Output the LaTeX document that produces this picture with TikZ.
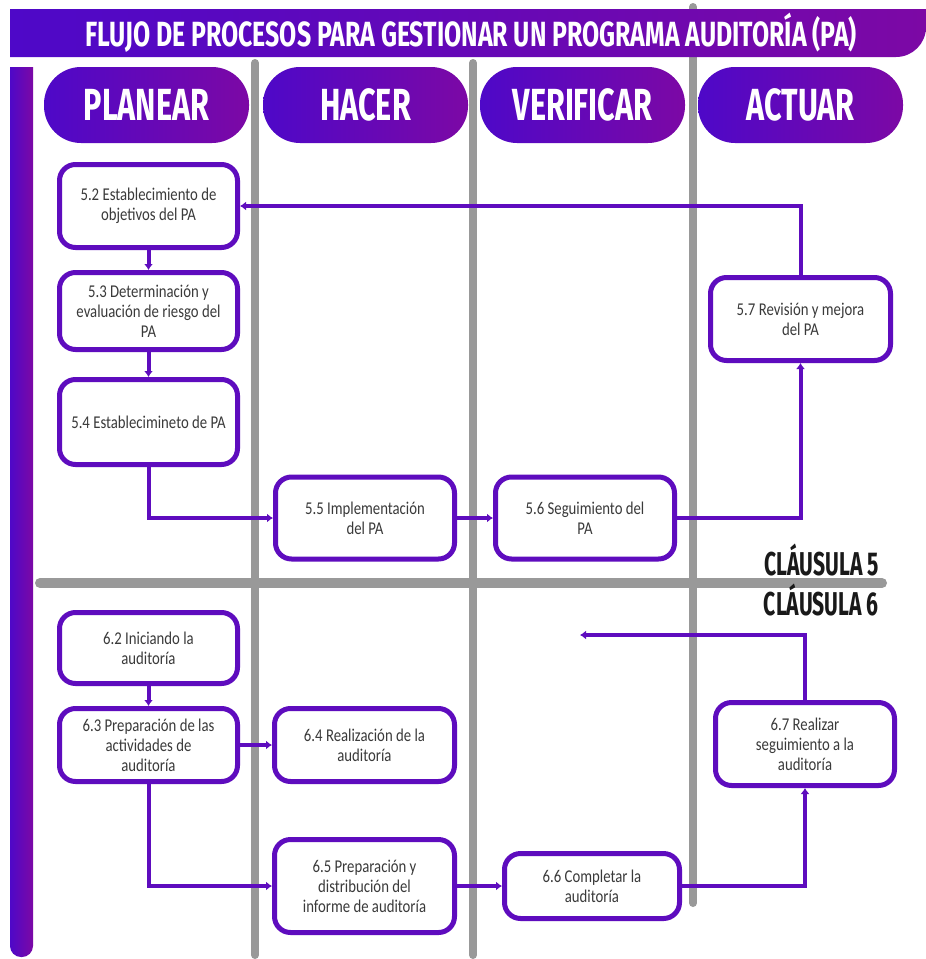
\documentclass[tikz,border=0pt]{standalone}
\usepackage{fontspec}
\setmainfont[FakeStretch=0.82]{Carlito}
\newfontfamily\titfont[FakeStretch=0.71]{Fira Sans}
\newfontfamily\fasefont[FakeStretch=0.68]{Fira Sans}
\newfontfamily\clfont[FakeStretch=0.64]{Fira Sans}
\usetikzlibrary{arrows.meta}
\definecolor{azulv}{RGB}{78,8,200}
\definecolor{morado}{RGB}{124,8,165}
\definecolor{borde}{RGB}{94,12,190}
\definecolor{carril}{RGB}{153,153,153}
\definecolor{letra}{RGB}{58,58,58}
\tikzset{
	paso/.style={draw=borde, line width=5pt, rounded corners=16pt, fill=white, align=center, text=letra, font=\fontsize{18}{20}\selectfont, inner sep=2pt},
	flecha/.style={draw=borde, line width=4pt, -{Latex[length=6pt,width=9pt]}},
	linea/.style={draw=carril, line width=8pt, line cap=round},
	fase/.style={left color=azulv, right color=morado, rounded corners=37pt, minimum width=205pt, minimum height=76pt, text=white, font=\fasefont\bfseries\fontsize{45}{45}\selectfont},
	clausula/.style={anchor=base east, inner sep=0pt, text=black!90, font=\clfont\bfseries\fontsize{33}{33}\selectfont}
}
\begin{document}
\begin{tikzpicture}[x=1pt,y=-1pt]
		\useasboundingbox (0,0) rectangle (926,959);
		\fill[white] (0,0) rectangle (926,959);
		%
		% carriles
		\foreach \x/\a/\b in {255/63/955, 473/63/955, 693/7/903}{
			\draw[linea] (\x,\a) -- (\x,\b);
		}
		\draw[linea, line width=10pt] (40,583) -- (882,583);
		%
		% titulo
		\shade[left color=azulv, right color=morado] (10,9) -- (926,9) [rounded corners=30pt] -- (926,57) [sharp corners] -- (10,57) -- cycle;
		\node[text=white, font=\titfont\bfseries\fontsize{35}{35}\selectfont] (titulo) at (471,33) {FLUJO DE PROCESOS PARA GESTIONAR UN PROGRAMA AUDITORÍA (PA)};
		\shade[left color=azulv, right color=morado] (10,67) -- (33,67) [rounded corners=11pt] -- (33,957) -- (10,957) [sharp corners] -- cycle;
		%
		% fases
		\foreach \n/\x/\t in {planear/146.5/PLANEAR, hacer/365.5/HACER, verificar/582.5/VERIFICAR, actuar/800.5/ACTUAR}{
			\node[fase] (\n) at (\x,105) {\t};
		}
		%
		% clausula 5
		\node[paso, minimum width=178pt, minimum height=83pt] (p52) at (148.5,206) {5.2 Establecimiento de\\objetivos del PA};
		\node[paso, minimum width=178pt, minimum height=77pt] (p53) at (148.5,311) {5.3 Determinación y\\evaluación de riesgo del\\PA};
		\node[paso, minimum width=178pt, minimum height=85pt] (p54) at (148.5,422) {5.4 Establecimineto de PA};
		\node[paso, minimum width=179pt, minimum height=82pt] (p55) at (365,518) {5.5 Implementación\\del PA};
		\node[paso, minimum width=179pt, minimum height=82pt] (p56) at (585,518) {5.6 Seguimiento del\\PA};
		\node[paso, minimum width=180pt, minimum height=83pt] (p57) at (800.5,319) {5.7 Revisión y mejora\\del PA};
		%
		\draw[flecha] (p52) -- (p53);
		\draw[flecha] (p53) -- (p54);
		\draw[flecha] (p54.south) |- (p55.west);
		\draw[flecha] (p55) -- (p56);
		\draw[flecha] (p56.east) -| (p57.south);
		\draw[flecha] (p57.north) |- (p52.east);
		%
		\node[clausula] (cl5) at (879,575) {CLÁUSULA 5};
		\node[clausula] (cl6) at (879,615) {CLÁUSULA 6};
		%
		% clausula 6
		\node[paso, minimum width=178pt, minimum height=71pt] (p62) at (148.5,648) {6.2 Iniciando la\\auditoría};
		\node[paso, minimum width=178pt, minimum height=73pt] (p63) at (148.5,745) {6.3 Preparación de las\\actividades de\\auditoría};
		\node[paso, minimum width=180pt, minimum height=73pt] (p64) at (364.5,745) {6.4 Realización de la\\auditoría};
		\node[paso, minimum width=180pt, minimum height=93pt] (p65) at (364.5,886) {6.5 Preparación y\\distribución del\\informe de auditoría};
		\node[paso, minimum width=175pt, minimum height=65pt] (p66) at (592,886) {6.6 Completar la\\auditoría};
		\node[paso, minimum width=179pt, minimum height=83pt] (p67) at (805,744) {6.7 Realizar\\seguimiento a la\\auditoría};
		\coordinate (fin) at (580,635);
		%
		\draw[flecha] (p62) -- (p63);
		\draw[flecha] (p63) -- (p64);
		\draw[flecha] (p63.south) |- (p65.west);
		\draw[flecha] (p65) -- (p66);
		\draw[flecha] (p66.east) -| (p67.south);
		\draw[flecha] (p67.north) |- (fin);
		%
	\end{tikzpicture}
\end{document}
